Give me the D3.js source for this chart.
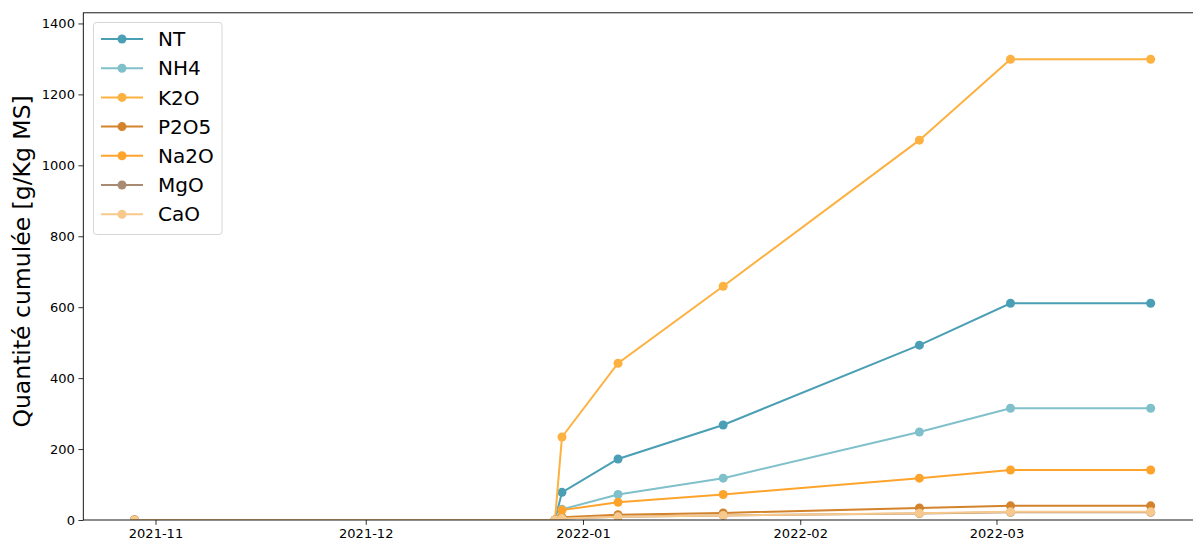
<!DOCTYPE html>
<html><head><meta charset="utf-8">
<script src="https://cdn.jsdelivr.net/npm/d3@7"></script>
<style>body{margin:0;background:#fff}svg{display:block}text{font-family:"DejaVu Sans",sans-serif}</style>
</head><body><svg id="c" width="1193" height="542"></svg>
<script>
const dates = ["2021-10-29","2021-12-28","2021-12-29","2022-01-06","2022-01-21","2022-02-18","2022-03-03","2022-03-23"];
const seriesNames = ["NT","NH4","K2O","P2O5","Na2O","MgO","CaO"];
const seriesColors = ["#4a9fb5","#80c0cb","#fdb140","#d3832b","#fea42c","#a88b72","#f7c98c"];
const NT   = [0,0,78,172,268,493,611,611];
const NH4  = [0,0,30,72,118,248,315,315];
const K2O  = [0,0,234,442,659,1071,1299,1299];
const P2O5 = [0,0,8,15,20,34,40,40];
const Na2O = [0,0,28,50,72,118,141,141];
const MgO  = [0,0,4,9,13,18,22,22];
const CaO  = [0,0,4,9,13,19,23,23];
const seriesValues = [NT,NH4,K2O,P2O5,Na2O,MgO,CaO];
const yTicks = [0,200,400,600,800,1000,1200,1400];
const xTicks = ["2021-11-01","2021-12-01","2022-01-01","2022-02-01","2022-03-01"];
const yLabel = "Quantité cumulée [g/Kg MS]";

(function(){
const svg = d3.select("#c");
const parse = d3.utcParse("%Y-%m-%d");
const DAY = 864e5;
const x0 = new Date(parse("2021-10-29").getTime() - 7.3*DAY);
const x1 = new Date(parse("2022-03-23").getTime() + 7.25*DAY);
const pxPerDay = (997-156)/120;
const mLeft = 83.3;
const mRight = mLeft + (x1 - x0)/DAY*pxPerDay;
const x = d3.scaleUtc().domain([x0,x1]).range([mLeft,mRight]);
const mTop = 12.8, mBottom = 520;
const y = d3.scaleLinear().domain([0,1430]).range([mBottom,mTop]);

svg.append("defs").append("clipPath").attr("id","clip").append("rect")
  .attr("x",mLeft).attr("y",mTop).attr("width",mRight-mLeft).attr("height",mBottom-mTop);

const yAxis = d3.axisLeft(y).tickValues(yTicks).tickSize(4.9).tickPadding(3.5).tickFormat(d3.format("d"));
const ya = svg.append("g").attr("transform",`translate(${mLeft},0)`).call(yAxis);
ya.select(".domain").remove();
ya.selectAll("text").attr("font-size","13px").attr("fill","#000");
ya.selectAll("line").attr("stroke","#000").attr("stroke-width",0.8);

const xAxis = d3.axisBottom(x).tickValues(xTicks.map(parse)).tickSize(4.9).tickPadding(3.5).tickFormat(d3.utcFormat("%Y-%m"));
const xa = svg.append("g").attr("transform",`translate(0,${mBottom})`).call(xAxis);
xa.select(".domain").remove();
xa.selectAll("text").attr("font-size","13px").attr("fill","#000");
xa.selectAll("line").attr("stroke","#000").attr("stroke-width",0.8);

const plot = svg.append("g").attr("clip-path","url(#clip)");
const line = d3.line().x((d,i)=>x(parse(dates[i]))).y(d=>y(d));
seriesValues.forEach((vals,k)=>{
  const sg = plot.append("g");
  sg.append("path").datum(vals).attr("d",line).attr("fill","none")
    .attr("stroke",seriesColors[k]).attr("stroke-width",2);
  sg.selectAll("circle").data(vals).join("circle")
    .attr("cx",(d,i)=>x(parse(dates[i]))).attr("cy",d=>y(d)).attr("r",4.5)
    .attr("fill",seriesColors[k]);
});

svg.append("rect").attr("x",mLeft).attr("y",mTop).attr("width",mRight-mLeft).attr("height",mBottom-mTop)
  .attr("fill","none").attr("stroke","#000").attr("stroke-width",0.9);

svg.append("text").attr("transform",`translate(30,${(mTop+mBottom)/2 - 5}) rotate(-90)`)
  .attr("text-anchor","middle").attr("font-size","23.5px").attr("fill","#000").text(yLabel);

const lg = svg.append("g");
lg.append("rect").attr("x",93.5).attr("y",22.5).attr("width",128.5).attr("height",212)
  .attr("rx",3).attr("fill","#fff").attr("fill-opacity",0.8).attr("stroke","#d6d6d6").attr("stroke-width",1);
seriesNames.forEach((n,k)=>{
  const yy = 39 + k*29.2;
  lg.append("line").attr("x1",101).attr("x2",143).attr("y1",yy).attr("y2",yy)
    .attr("stroke",seriesColors[k]).attr("stroke-width",2);
  lg.append("circle").attr("cx",122).attr("cy",yy).attr("r",4.5).attr("fill",seriesColors[k]);
  lg.append("text").attr("x",158).attr("y",yy).attr("dy","0.36em").attr("font-size","20px").attr("fill","#000").text(n);
});
})();
</script></body></html>
